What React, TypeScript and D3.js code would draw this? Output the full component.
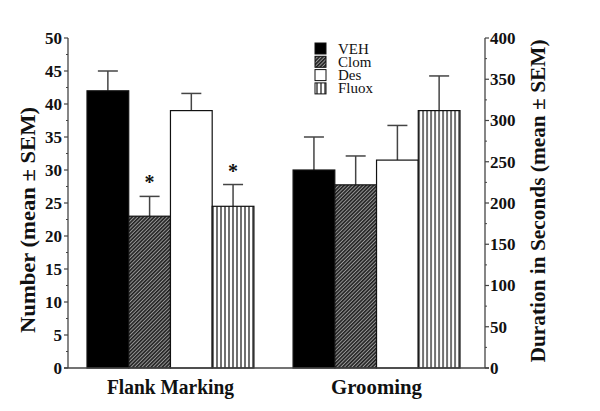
import React from "react";
import * as d3 from "d3";

const groups = ["Flank Marking", "Grooming"];
const series = ["VEH", "Clom", "Des", "Fluox"];
const flankMeans = [42, 23, 39, 24.5];
const flankSEM = [3, 3, 2.6, 3.3];
const groomingMeans = [240, 222, 252, 312];
const groomingSEM = [40, 35, 42, 42];
const leftTicks = [0, 5, 10, 15, 20, 25, 30, 35, 40, 45, 50];
const rightTicks = [0, 50, 100, 150, 200, 250, 300, 350, 400];
const significant = [[false, true, false, true], [false, false, false, false]];

const W = 600;
const H = 411;
const xLeft = 68;
const xRight = 485;
const yTop = 38;
const yBottom = 368;

const fills = ["#000", "url(#hatch)", "#fff", "url(#vstripe)"];

export default function App() {
  const yL = d3.scaleLinear().domain([0, 50]).range([yBottom, yTop]);
  const yR = d3.scaleLinear().domain([0, 400]).range([yBottom, yTop]);
  const x0 = d3.scaleBand().domain(groups).range([87, 460]).paddingInner(0.19);
  const x1 = d3.scaleBand().domain(series).range([0, x0.bandwidth()]);

  const data = [
    { g: groups[0], means: flankMeans, sem: flankSEM, y: yL },
    { g: groups[1], means: groomingMeans, sem: groomingSEM, y: yR },
  ];

  const leftMinor = d3.range(2.5, 50, 5);
  const rightMinor = d3.range(25, 400, 50);
  const serif = "Liberation Serif";
  const axisColor = "#444";
  const catLen = [127, 91];

  return (
    <svg width={W} height={H} style={{ position: "absolute", left: 0, top: 0, background: "#fff" }}>
      <defs>
        <pattern id="hatch" width={2.6} height={2.6} patternUnits="userSpaceOnUse" patternTransform="rotate(45)">
          <rect width={2.6} height={2.6} fill="#999" />
          <line x1={0.8} y1={0} x2={0.8} y2={2.6} stroke="#1a1a1a" strokeWidth={1.5} />
        </pattern>
        <pattern id="vstripe" width={4} height={4} patternUnits="userSpaceOnUse">
          <rect width={4} height={4} fill="#fff" />
          <line x1={2} y1={0} x2={2} y2={4} stroke="#111" strokeWidth={1.2} />
        </pattern>
      </defs>
      <rect width={W} height={H} fill="#fff" />

      {/* bars */}
      {data.map((d, gi) => (
        <g key={d.g} transform={`translate(${x0(d.g)},0)`}>
          {series.map((s, i) => {
            const bx = x1(s)!;
            const bw = x1.bandwidth();
            const top = d.y(d.means[i]);
            const errTop = d.y(d.means[i] + d.sem[i]);
            const cx = bx + bw / 2;
            return (
              <g key={s}>
                <line x1={cx} x2={cx} y1={top} y2={errTop} stroke={axisColor} strokeWidth={1.5} />
                <line x1={cx - 10} x2={cx + 10} y1={errTop} y2={errTop} stroke={axisColor} strokeWidth={1.5} />
                <rect x={bx} y={top} width={bw} height={yBottom - top} fill={fills[i]} stroke="#111" strokeWidth={1.2} />
                {significant[gi][i] && (
                  <text x={cx} y={errTop - 7} textAnchor="middle" style={{ fontFamily: serif }} fontWeight="bold" fontSize={20} fill="#111">*</text>
                )}
              </g>
            );
          })}
        </g>
      ))}

      {/* baseline */}
      <line x1={xLeft - 4} x2={xRight + 4} y1={yBottom} y2={yBottom} stroke={axisColor} strokeWidth={1.3} />

      {/* left axis */}
      <line x1={xLeft} x2={xLeft} y1={yTop} y2={yBottom} stroke={axisColor} strokeWidth={1.3} />
      {leftTicks.map((t) => (
        <g key={t}>
          <line x1={xLeft - 4} x2={xLeft} y1={yL(t)} y2={yL(t)} stroke={axisColor} strokeWidth={1.2} />
          <text x={xLeft - 6} y={yL(t)} dy="0.35em" textAnchor="end" style={{ fontFamily: serif }} fontWeight="bold" fontSize={17} fill="#111">{t}</text>
        </g>
      ))}
      {leftMinor.map((t) => (
        <line key={t} x1={xLeft - 2} x2={xLeft} y1={yL(t)} y2={yL(t)} stroke={axisColor} strokeWidth={1} />
      ))}

      {/* right axis */}
      <line x1={xRight} x2={xRight} y1={yTop} y2={yBottom} stroke={axisColor} strokeWidth={1.3} />
      {rightTicks.map((t) => (
        <g key={t}>
          <line x1={xRight} x2={xRight + 4} y1={yR(t)} y2={yR(t)} stroke={axisColor} strokeWidth={1.2} />
          <text x={xRight + 5} y={yR(t)} dy="0.35em" textAnchor="start" style={{ fontFamily: serif }} fontWeight="bold" fontSize={17} fill="#111">{t}</text>
        </g>
      ))}
      {rightMinor.map((t) => (
        <line key={t} x1={xRight} x2={xRight + 2} y1={yR(t)} y2={yR(t)} stroke={axisColor} strokeWidth={1} />
      ))}

      {/* axis titles */}
      <text transform={`translate(28,220) rotate(-90)`} textAnchor="middle" dy="0.35em" style={{ fontFamily: serif }} fontWeight="bold" fontSize={21} textLength={226} lengthAdjust="spacingAndGlyphs" fill="#111">Number (mean ± SEM)</text>
      <text transform={`translate(538,201) rotate(-90)`} textAnchor="middle" dy="0.35em" style={{ fontFamily: serif }} fontWeight="bold" fontSize={21} textLength={323} lengthAdjust="spacingAndGlyphs" fill="#111">Duration in Seconds (mean ± SEM)</text>

      {/* category labels */}
      {groups.map((g, i) => (
        <text key={g} x={x0(g)! + x0.bandwidth() / 2} y={394} textAnchor="middle" style={{ fontFamily: serif }} fontWeight="bold" fontSize={20} textLength={catLen[i]} lengthAdjust="spacingAndGlyphs" fill="#111">{g}</text>
      ))}

      {/* legend */}
      {series.map((s, i) => (
        <g key={s} transform={`translate(315,${43 + i * 13.3})`}>
          <rect x={0} y={0} width={11} height={11} fill={fills[i]} stroke="#111" strokeWidth={1} />
          <text x={23} y={10.5} style={{ fontFamily: serif }} fontSize={15} fill="#111">{s}</text>
        </g>
      ))}
    </svg>
  );
}
